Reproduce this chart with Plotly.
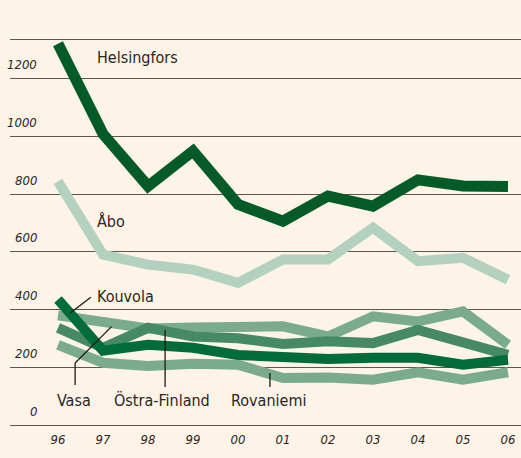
import plotly.graph_objects as go

years = ["96", "97", "98", "99", "00", "01", "02", "03", "04", "05", "06"]
helsingfors = [1322, 1009, 828, 950, 765, 707, 794, 759, 850, 829, 827]
abo = [845, 591, 556, 539, 493, 574, 574, 684, 568, 580, 504]
kouvola = [435, 258, 278, 268, 243, 236, 229, 233, 233, 209, 226]
vasa = [380, 355, 335, 338, 338, 342, 307, 377, 359, 394, 278]
ostra_finland = [337, 268, 337, 307, 301, 281, 290, 284, 330, 284, 243]
rovaniemi = [278, 216, 205, 212, 209, 163, 165, 157, 183, 157, 183]
y_ticks = [0, 200, 400, 600, 800, 1000, 1200]

BG = "#fdf3e6"
GRID = "#5e5650"
TXT = "#2b2626"
LABEL_FONT = "DejaVu Sans Condensed, Liberation Sans Narrow, sans-serif"

x = list(range(len(years)))

series = [
    ("Rovaniemi", rovaniemi, "#7aab8b", 10),
    ("Vasa", vasa, "#7aab8b", 10),
    ("Östra-Finland", ostra_finland, "#468a63", 10),
    ("Kouvola", kouvola, "#006c3a", 10),
    ("Åbo", abo, "#b3d1bf", 10),
    ("Helsingfors", helsingfors, "#045b28", 11),
]

fig = go.Figure()
for name, vals, col, w in series:
    fig.add_trace(go.Scatter(x=x, y=vals, mode="lines", name=name,
                             line=dict(color=col, width=w), hoverinfo="skip"))

# y tick labels (above gridlines, right-aligned)
for v in y_ticks:
    fig.add_annotation(x=0.0575, xref="paper", y=v, yref="y", text=str(v),
                       showarrow=False, xanchor="right", yanchor="middle",
                       yshift=14,
                       font=dict(family=LABEL_FONT, size=13, color=TXT, style="italic"))

lab = dict(family=LABEL_FONT, size=16, color=TXT)
# series labels
fig.add_annotation(x=0.82, y=1275, text="Helsingfors", showarrow=False,
                   xanchor="left", yanchor="middle", font=lab)
fig.add_annotation(x=0.82, y=705, text="Åbo", showarrow=False,
                   xanchor="left", yanchor="middle", font=lab)
fig.add_annotation(x=0.82, y=447, text="Kouvola", showarrow=False,
                   xanchor="left", yanchor="middle", font=lab)
fig.add_annotation(x=0.36, y=86, text="Vasa", showarrow=False,
                   xanchor="center", yanchor="middle", font=lab)
fig.add_annotation(x=2.3, y=86, text="Östra-Finland", showarrow=False,
                   xanchor="center", yanchor="middle", font=lab)
fig.add_annotation(x=4.67, y=86, text="Rovaniemi", showarrow=False,
                   xanchor="center", yanchor="middle", font=lab)

# leader lines
leaders = [
    [(0.27, 388), (0.73, 443)],            # Kouvola
    [(1.19, 341), (0.38, 215), (0.38, 139)],  # Vasa
    [(2.38, 329), (2.38, 132)],            # Östra-Finland
    [(4.71, 180), (4.71, 132)],            # Rovaniemi
]
for pts in leaders:
    for (x0, y0), (x1, y1) in zip(pts[:-1], pts[1:]):
        fig.add_shape(type="line", xref="x", yref="y", x0=x0, y0=y0, x1=x1, y1=y1,
                      line=dict(color="#1a1a1a", width=1.3), layer="above")

fig.update_layout(
    width=521, height=458,
    margin=dict(l=10, r=0, t=40, b=33),
    paper_bgcolor=BG, plot_bgcolor=BG,
    showlegend=False,
    xaxis=dict(range=[-1.067, 10.289], tickvals=x, ticktext=years,
               showgrid=False, zeroline=False, showline=True, mirror=True,
               linecolor=GRID, linewidth=1, ticks="", ticklabelstandoff=2,
               tickfont=dict(family=LABEL_FONT, size=13, color=TXT, style="italic")),
    yaxis=dict(range=[0, 1335], tickvals=y_ticks, showticklabels=False,
               showgrid=True, gridcolor=GRID, gridwidth=1, zeroline=False,
               showline=False, ticks=""),
)

fig.write_html("out.html", config={"displayModeBar": False},
               post_script="document.body.style.margin='0';document.body.style.background='%s';" % BG)
